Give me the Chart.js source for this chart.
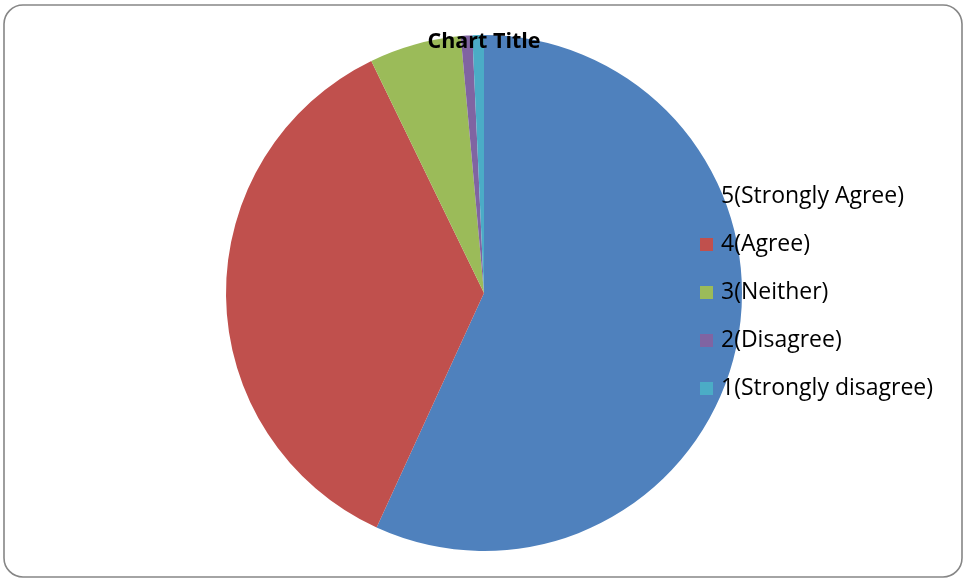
<!DOCTYPE html>
<html>
<head>
<meta charset="utf-8">
<script src="https://cdn.jsdelivr.net/npm/chart.js@4"></script>
<style>
  html, body { margin: 0; padding: 0; background: #fff; }
  #wrap { width: 964px; height: 580px; position: relative; }
</style>
</head>
<body>
<div id="wrap"><canvas id="chart"></canvas></div>
<script>
const categories = ["5(Strongly Agree)", "4(Agree)", "3(Neither)", "2(Disagree)", "1(Strongly disagree)"];
const responses = [79, 50, 8, 1, 1];
const chartTitle = "Chart Title";

const sliceColors = ["#4f81bd", "#c0504d", "#9bbb59", "#8064a2", "#4bacc6"];
const FONT = "'Open Sans', sans-serif";

// frame, title and legend are drawn by hand so they can sit over the pie like in Excel
const excelDecor = {
  id: "excelDecor",
  beforeDraw(chart) {
    const ctx = chart.ctx;
    ctx.save();
    ctx.strokeStyle = "#868686";
    ctx.lineWidth = 1.6;
    ctx.beginPath();
    ctx.roundRect(4, 5, 958, 572, 19);
    ctx.stroke();
    ctx.restore();
  },
  afterDraw(chart) {
    const ctx = chart.ctx;
    const colors = chart.data.datasets[0].backgroundColor;
    ctx.save();
    ctx.fillStyle = "#000";
    ctx.font = "bold 21.5px " + FONT;
    ctx.textAlign = "center";
    ctx.textBaseline = "middle";
    ctx.fillText(chartTitle, 484, 42);

    ctx.font = "23px " + FONT;
    ctx.textAlign = "left";
    chart.data.labels.forEach((label, i) => {
      const y = 196 + i * 48;
      ctx.fillStyle = colors[i];
      ctx.fillRect(700, y - 6, 13, 13);
      ctx.fillStyle = "#000";
      ctx.fillText(label, 721, y);
    });
    ctx.restore();
  },
};

new Chart(document.getElementById("chart"), {
  type: "pie",
  data: {
    labels: categories,
    datasets: [
      {
        data: responses,
        backgroundColor: sliceColors,
        borderWidth: 0,
      },
    ],
  },
  options: {
    responsive: true,
    maintainAspectRatio: false,
    animation: false,
    layout: { padding: { top: 35, bottom: 29, left: 226, right: 222 } },
    plugins: {
      legend: { display: false },
      title: { display: false },
      tooltip: { enabled: false },
    },
  },
  plugins: [excelDecor],
});
</script>
</body>
</html>
